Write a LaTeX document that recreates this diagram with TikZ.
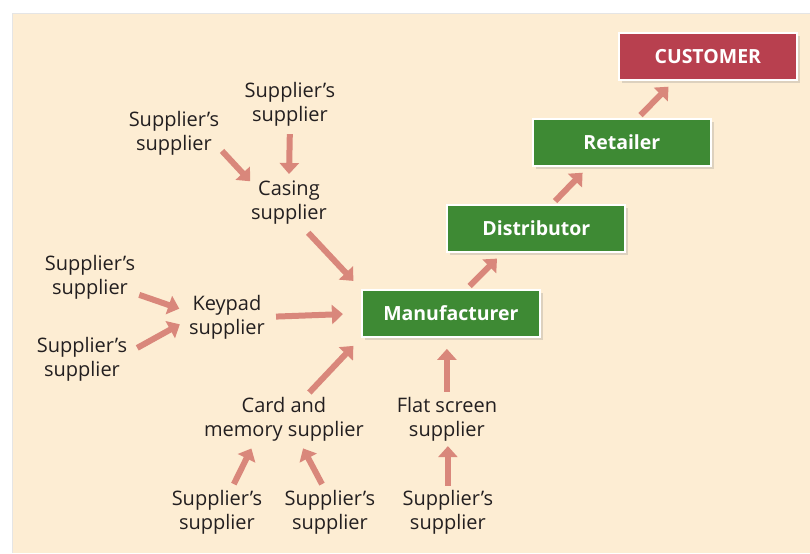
\documentclass[tikz,border=0pt]{standalone}
\usepackage{fontspec}
\setmainfont{Open Sans}
\usetikzlibrary{arrows.meta,shadows}
\definecolor{panel}{HTML}{FDEDD3}
\definecolor{flowred}{HTML}{D9877B}
\definecolor{boxgreen}{HTML}{3E8A34}
\definecolor{boxred}{HTML}{B8404F}
\definecolor{ink}{HTML}{231F20}

\begin{document}
\begin{tikzpicture}[x=1pt,y=-1pt,
	supp/.style={align=center,text=ink,inner sep=2pt,font=\fontsize{20}{24}\selectfont},
	stage/.style={draw=white,line width=2pt,minimum width=178pt,minimum height=47pt,inner sep=0pt,
		text=white,font=\fontsize{19.5}{24}\selectfont\bfseries,
		drop shadow={shadow xshift=3pt,shadow yshift=-3pt,opacity=.25}},
	flow/.style={draw=flowred,line width=6pt,-{Triangle[width=19pt,length=11pt]}}]
	
	\fill[white] (0,0) rectangle (810,553);
	\fill[panel] (12,13) rectangle (810,553);
	\draw[gray!20] (12,553) -- (12,13) -- (810,13);
	
	% suppliers
	\node[supp] (ssTop) at (290,104) {Supplier's\\supplier};
	\node[supp] (ssCase) at (174,133) {Supplier's\\supplier};
	\node[supp] (casing) at (289,203) {Casing\\supplier};
	\node[supp] (ssKeyA) at (90,277) {Supplier's\\supplier};
	\node[supp] (keypad) at (227,317) {Keypad\\supplier};
	\node[supp] (ssKeyB) at (82,359) {Supplier's\\supplier};
	\node[supp] (card) at (284,419) {Card and\\memory supplier};
	\node[supp] (flat) at (447,419) {Flat screen\\supplier};
	\node[supp] (ssCardA) at (217,512) {Supplier's\\supplier};
	\node[supp] (ssCardB) at (330,512) {Supplier's\\supplier};
	\node[supp] (ssFlat) at (448,512) {Supplier's\\supplier};
	
	% chain
	\node[stage,fill=boxgreen] (manu) at (451,313.5) {Manufacturer};
	\node[stage,fill=boxgreen] (dist) at (536.5,228.5) {Distributor};
	\node[stage,fill=boxgreen] (retail) at (622,142.5) {Retailer};
	\node[stage,fill=boxred] (cust) at (708,56.5) {CUSTOMER};
	
	\draw[flow,shorten <=6pt,shorten >=5pt] (ssTop.south) -- (casing.north);
	\draw[flow,shorten <=1pt,shorten >=-2pt] (ssCase.-20) -- (casing.150);
	\draw[flow,shorten <=8pt,shorten >=11pt] (casing.-60) -- (manu.north west);
	\draw[flow,shorten <=2pt,shorten >=8pt] (ssKeyA.-20) -- (keypad.172);
	\draw[flow,shorten <=9pt,shorten >=8pt] (ssKeyB.8) -- (keypad.185);
	\draw[flow,shorten <=9pt,shorten >=18pt] (keypad.east) -- (manu.west);
	\draw[flow,shorten <=3pt,shorten >=11pt] (card.46) -- (manu.south west);
	\draw[flow,shorten <=3pt,shorten >=11pt] (flat.north) -- (flat.north |- manu.south);
	\draw[flow,shorten <=4pt,shorten >=6pt] (ssCardA.58) -- (card.-141);
	\draw[flow,shorten <=4pt,shorten >=6pt] (ssCardB.104) -- (card.-56);
	\draw[flow,shorten <=2pt,shorten >=3pt] (ssFlat.north) -- (ssFlat.north |- flat.south);
	
	\draw[flow,shorten <=4pt,shorten >=8pt] (manu.57) -- (dist.-144);
	\draw[flow,shorten <=4pt,shorten >=8pt] (dist.57) -- (retail.-144);
	\draw[flow,shorten <=4pt,shorten >=8pt] (retail.57) -- (cust.-144);
	
\end{tikzpicture}
\end{document}
